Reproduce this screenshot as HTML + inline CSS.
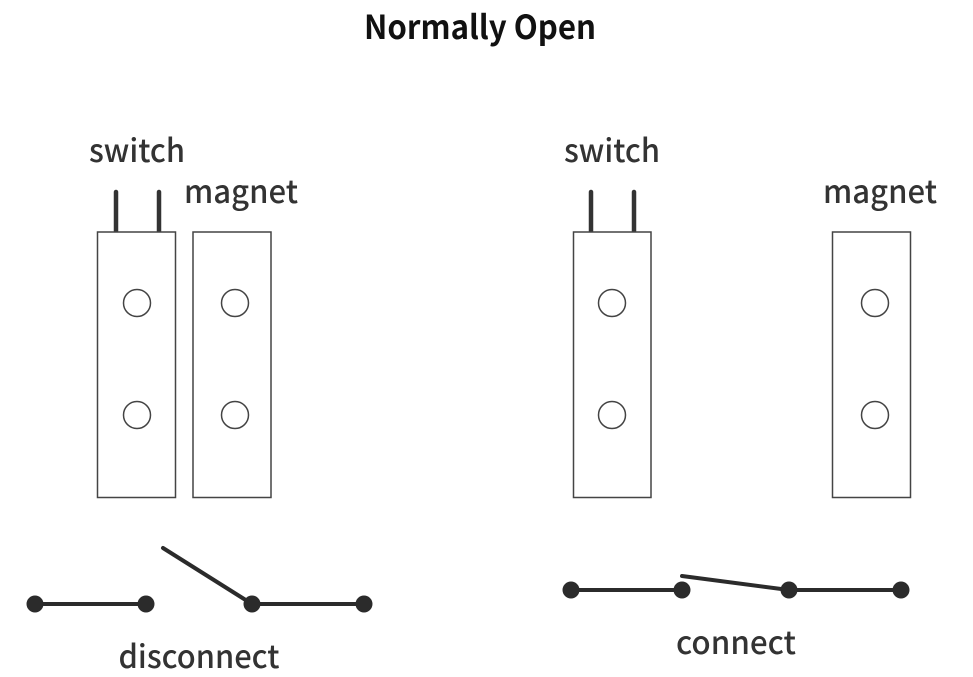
<!DOCTYPE html>
<html>
<head>
<meta charset="utf-8">
<style>
html,body{margin:0;padding:0;background:#fff;}
svg{display:block;}
text{font-family:"Noto Sans CJK KR","Liberation Sans",sans-serif;fill:#333;font-weight:500;}
</style>
</head>
<body>
<svg width="973" height="677" viewBox="0 0 973 677" xmlns="http://www.w3.org/2000/svg">
<rect width="973" height="677" fill="#fff"/>
<text x="480" y="39" text-anchor="middle" font-size="33" style="fill:#111;font-weight:700" textLength="232" lengthAdjust="spacingAndGlyphs">Normally Open</text>

<text x="137" y="162" text-anchor="middle" font-size="32" textLength="96" lengthAdjust="spacingAndGlyphs">switch</text>
<text x="241" y="203" text-anchor="middle" font-size="32" textLength="114" lengthAdjust="spacingAndGlyphs">magnet</text>
<text x="612" y="162" text-anchor="middle" font-size="32" textLength="96" lengthAdjust="spacingAndGlyphs">switch</text>
<text x="880" y="203" text-anchor="middle" font-size="32" textLength="114" lengthAdjust="spacingAndGlyphs">magnet</text>
<text x="199" y="668" text-anchor="middle" font-size="32" textLength="161" lengthAdjust="spacingAndGlyphs">disconnect</text>
<text x="736" y="654" text-anchor="middle" font-size="32" textLength="120" lengthAdjust="spacingAndGlyphs">connect</text>

<g stroke="#333" stroke-width="4.5" stroke-linecap="round" fill="none">
<line x1="116" y1="192" x2="116" y2="232"/>
<line x1="159" y1="192" x2="159" y2="232"/>
<line x1="591" y1="192" x2="591" y2="232"/>
<line x1="634" y1="192" x2="634" y2="232"/>
</g>

<g stroke="#444" stroke-width="1.5" fill="#fff">
<rect x="97.500" y="232" width="78" height="265.500"/>
<rect x="193" y="232" width="78" height="265.500"/>
<rect x="573.500" y="232" width="77.500" height="265.500"/>
<rect x="832.500" y="232" width="78" height="265.500"/>
<circle cx="137" cy="303" r="13.500"/>
<circle cx="137" cy="415" r="13.500"/>
<circle cx="235" cy="303" r="13.500"/>
<circle cx="235" cy="415" r="13.500"/>
<circle cx="612" cy="303" r="13.500"/>
<circle cx="612" cy="415" r="13.500"/>
<circle cx="875" cy="303" r="13.500"/>
<circle cx="875" cy="415" r="13.500"/>
</g>

<g stroke="#2b2b2b" stroke-width="4" stroke-linecap="round" fill="none">
<line x1="35" y1="604" x2="146" y2="604"/>
<line x1="163" y1="548" x2="252" y2="604"/>
<line x1="252" y1="604" x2="364" y2="604"/>
<line x1="571" y1="590" x2="682" y2="590"/>
<line x1="682" y1="576" x2="789" y2="590"/>
<line x1="789" y1="590" x2="901" y2="590"/>
</g>
<g fill="#2b2b2b">
<circle cx="35" cy="604" r="8.500"/>
<circle cx="146" cy="604" r="8.500"/>
<circle cx="252" cy="604" r="8.500"/>
<circle cx="364" cy="604" r="8.500"/>
<circle cx="571" cy="590" r="8.500"/>
<circle cx="682" cy="590" r="8.500"/>
<circle cx="789" cy="590" r="8.500"/>
<circle cx="901" cy="590" r="8.500"/>
</g>
</svg>
</body>
</html>
